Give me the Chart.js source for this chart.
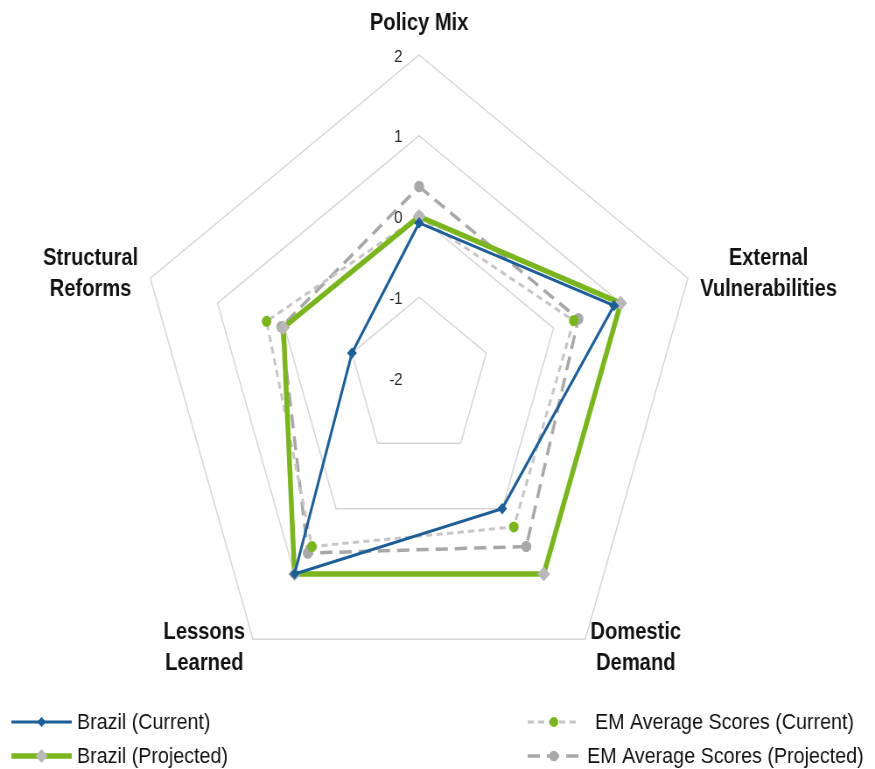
<!DOCTYPE html>
<html>
<head>
<meta charset="utf-8">
<script src="https://cdn.jsdelivr.net/npm/chart.js@4.4.1/dist/chart.umd.min.js"></script>
<style>
  html, body { margin: 0; padding: 0; background: #fff; }
</style>
</head>
<body>
<canvas id="radar" width="1000" height="769" style="display:block;width:875px;height:769px"></canvas>
<script>
// axis categories (multi-line labels)
const categories = [
  ["Policy Mix"],
  ["External", "Vulnerabilities"],
  ["Domestic", "Demand"],
  ["Lessons", "Learned"],
  ["Structural", "Reforms"]
];
const tickValues = [-2, -1, 0, 1, 2];

const brazilCurrent = [-0.08, 0.9, 0.0, 1.0, -1.0];
const brazilProjected = [0.0, 1.0, 1.0, 1.0, 0.02];
const emCurrent = [0.0, 0.3, 0.28, 0.58, 0.27];
const emProjected = [0.37, 0.37, 0.58, 0.68, 0.05];

const seriesNames = [
  "Brazil (Current)",
  "Brazil (Projected)",
  "EM Average Scores (Current)",
  "EM Average Scores (Projected)"
];

const FONT = '"Liberation Sans", Arial, sans-serif';

// draws tick labels, axis labels and the 2x2 legend
const labelPlugin = {
  id: "labelPlugin",
  afterDraw(chart) {
    const ctx = chart.ctx;
    const r = chart.scales.r;
    ctx.save();

    ctx.font = "17px " + FONT;
    ctx.fillStyle = "#262626";
    ctx.textAlign = "right";
    ctx.textBaseline = "middle";
    tickValues.forEach(v => {
      const y = r.yCenter - r.getDistanceFromCenterForValue(v);
      ctx.fillText(String(v), r.xCenter - 19, y + 2);
    });

    ctx.font = "bold 23px " + FONT;
    ctx.fillStyle = "#111";
    ctx.textAlign = "center";
    const lh = 31;
    chart.data.labels.forEach((lines, i) => {
      const p = r.getPointPosition(i, r.drawingArea);
      const w = Math.max(...lines.map(l => ctx.measureText(l).width));
      let cx, cy;
      if (i === 0) { cx = p.x; cy = p.y - 31; }
      else if (i === 1) { cx = p.x + 14 + w / 2; cy = p.y - 4; }
      else if (i === 2) { cx = p.x + 6 + w / 2; cy = p.y + 9; }
      else if (i === 3) { cx = p.x - 9 - w / 2; cy = p.y + 9; }
      else { cx = p.x - 14 - w / 2; cy = p.y - 4; }
      lines.forEach((l, k) => {
        ctx.fillText(l, cx, cy + (k - (lines.length - 1) / 2) * lh);
      });
    });

    // legend
    const slots = [
      { x: 13, x2: 82, y: 722, tx: 88 },
      { x: 13, x2: 82, y: 756, tx: 88 },
      { x: 603, x2: 663, y: 722, tx: 680 },
      { x: 603, x2: 663, y: 756, tx: 671 }
    ];
    chart.data.datasets.forEach((ds, i) => {
      const s = slots[i];
      ctx.save();
      ctx.strokeStyle = ds.borderColor;
      ctx.lineWidth = ds.borderWidth;
      ctx.setLineDash(ds.borderDash || []);
      ctx.beginPath();
      ctx.moveTo(s.x, s.y);
      ctx.lineTo(s.x2, s.y);
      ctx.stroke();
      ctx.setLineDash([]);
      ctx.fillStyle = ds.pointBackgroundColor;
      ctx.strokeStyle = ds.pointBorderColor;
      Chart.helpers.drawPoint(ctx, {
        pointStyle: ds.pointStyle, radius: ds.pointRadius - 0.5, rotation: 0, borderWidth: 1
      }, (s.x + s.x2) / 2, s.y);
      ctx.restore();
      ctx.font = "22.5px " + FONT;
      ctx.fillStyle = "#111";
      ctx.textAlign = "left";
      ctx.textBaseline = "middle";
      ctx.fillText(ds.label, s.tx, s.y + 1);
    });
    ctx.restore();
  }
};

const ctx = document.getElementById("radar").getContext("2d");
new Chart(ctx, {
  type: "radar",
  data: {
    labels: categories,
    datasets: [
      {
        label: seriesNames[0],
        data: brazilCurrent,
        borderColor: "#1d5e98",
        borderWidth: 3,
        pointStyle: "rectRot",
        pointRadius: 3.5,
        pointBackgroundColor: "#1d5e98",
        pointBorderColor: "#1d5e98",
        fill: false
      },
      {
        label: seriesNames[1],
        data: brazilProjected,
        borderColor: "#7ab51d",
        borderWidth: 5.5,
        pointStyle: "rectRot",
        pointRadius: 3.5,
        pointBackgroundColor: "#b8b8b8",
        pointBorderColor: "#b8b8b8",
        fill: false
      },
      {
        label: seriesNames[2],
        data: emCurrent,
        borderColor: "#c6c6c6",
        borderWidth: 3,
        borderDash: [7, 5],
        pointStyle: "circle",
        pointRadius: 4,
        pointBackgroundColor: "#7ab51d",
        pointBorderColor: "#7ab51d",
        fill: false
      },
      {
        label: seriesNames[3],
        data: emProjected,
        borderColor: "#a8a8a8",
        borderWidth: 3.5,
        borderDash: [14, 8],
        pointStyle: "circle",
        pointRadius: 4,
        pointBackgroundColor: "#a8a8a8",
        pointBorderColor: "#a8a8a8",
        fill: false
      }
    ]
  },
  options: {
    responsive: false,
    animation: false,
    devicePixelRatio: 1,
    layout: { padding: { top: 55, bottom: 68, left: 29, right: 71 } },
    elements: { line: { tension: 0 } },
    plugins: { legend: { display: false }, tooltip: { enabled: false } },
    scales: {
      r: {
        min: -2,
        max: 2,
        ticks: { display: false, stepSize: 1 },
        pointLabels: { display: false },
        angleLines: { display: false },
        grid: { color: "#d6d6d6", lineWidth: 1.5 }
      }
    }
  },
  plugins: [labelPlugin]
});
</script>
</body>
</html>
